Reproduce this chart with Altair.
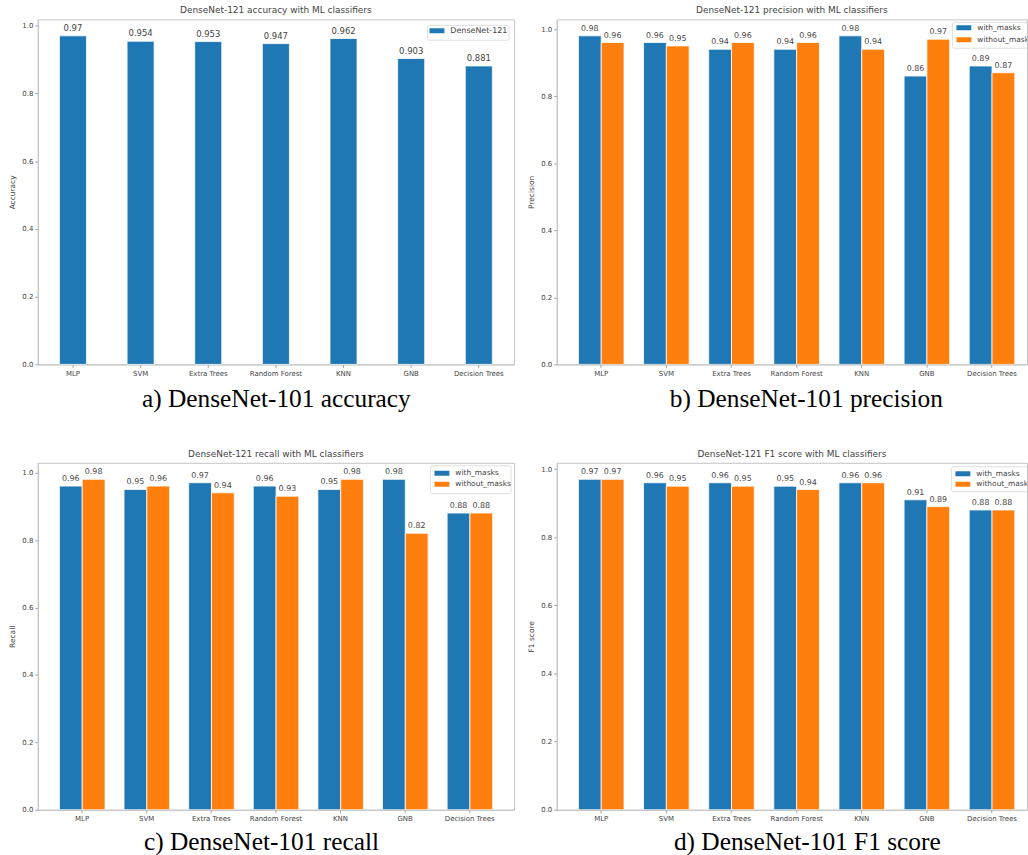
import altair as alt
import pandas as pd

# Classifiers compared in every panel
classifiers = ["MLP", "SVM", "Extra Trees", "Random Forest", "KNN", "GNB", "Decision Trees"]
series = ["with_masks", "without_masks"]

# DenseNet-121 feature extractor + ML classifier results
accuracy = [0.97, 0.954, 0.953, 0.947, 0.962, 0.903, 0.881]
precision_with = [0.98, 0.96, 0.94, 0.94, 0.98, 0.86, 0.89]
precision_without = [0.96, 0.95, 0.96, 0.96, 0.94, 0.97, 0.87]
recall_with = [0.96, 0.95, 0.97, 0.96, 0.95, 0.98, 0.88]
recall_without = [0.98, 0.96, 0.94, 0.93, 0.98, 0.82, 0.88]
f1_with = [0.97, 0.96, 0.96, 0.95, 0.96, 0.91, 0.88]
f1_without = [0.97, 0.95, 0.95, 0.94, 0.96, 0.89, 0.88]

BLUE = "#1f77b4"
ORANGE = "#ff7f0e"
TEXT = "#444444"
FRAME = "#c4c4c4"
Y_TICKS = [0.0, 0.2, 0.4, 0.6, 0.8, 1.0]


def y_enc(field, top, title):
    return alt.Y(
        f"{field}:Q",
        scale=alt.Scale(domain=[0, top], nice=False, zero=True),
        axis=alt.Axis(values=Y_TICKS, format=".1f", title=title),
    )


def panel_title(text):
    return alt.TitleParams(text, font="DejaVu Sans", fontSize=9, fontWeight="normal",
                           color=TEXT, offset=4, anchor="middle")


def caption(text, cx, cy):
    return alt.Chart(pd.DataFrame({"t": [text]})).mark_text(
        font="Liberation Serif", fontSize=25.5, color="black",
        align="center", baseline="alphabetic",
    ).encode(text="t:N", x=alt.value(cx), y=alt.value(cy))


def legend(names, colors, box, sw_x, rows_y, fs):
    x0, y0, x1, y1 = box
    layers = [
        alt.Chart(pd.DataFrame({"k": [0]})).mark_rect(
            fill="white", stroke="#d6d6d6", strokeWidth=0.8, cornerRadius=2, clip=True
        ).encode(x=alt.value(x0), x2=alt.value(x1), y=alt.value(y0), y2=alt.value(y1))
    ]
    for name, color, ry in zip(names, colors, rows_y):
        layers.append(
            alt.Chart(pd.DataFrame({"k": [0]})).mark_rect(fill=color, clip=True).encode(
                x=alt.value(sw_x), x2=alt.value(sw_x + 15),
                y=alt.value(ry - 2.5), y2=alt.value(ry + 2.5))
        )
        layers.append(
            alt.Chart(pd.DataFrame({"t": [name]})).mark_text(
                align="left", baseline="middle", fontSize=fs, color=TEXT,
                font="DejaVu Sans", clip=True
            ).encode(text="t:N", x=alt.value(sw_x + 21), y=alt.value(ry))
        )
    return layers


def single_panel(values, metric, title, cap, cap_x, cap_dy, width, height):
    df = pd.DataFrame({"classifier": classifiers, "value": values,
                       "label": [str(v) for v in values]})
    base = alt.Chart(df).encode(
        x=alt.X("classifier:N", sort=classifiers,
                scale=alt.Scale(paddingInner=0.6, paddingOuter=0.32),
                axis=alt.Axis(title=None, labelAngle=0)),
        y=y_enc("value", max(values) * 1.05, metric),
    )
    bars = base.mark_bar(color=BLUE, stroke="white", strokeWidth=0.8)
    labels = base.mark_text(baseline="bottom", dy=-3, fontSize=8.5, color=TEXT,
                            font="DejaVu Sans").encode(text="label:N")
    leg = legend(["DenseNet-121"], [BLUE], (392, 6, 474, 21), 394, [11.5], 8)
    return alt.layer(bars, labels, *leg, caption(cap, cap_x, height + cap_dy)).properties(
        width=width, height=height, title=panel_title(title))


def grouped_panel(with_vals, without_vals, metric, title, cap, cap_x, cap_dy,
                  width, height, pad_outer, align, leg_box, leg_rows):
    df = pd.DataFrame({
        "classifier": classifiers * 2,
        "series": [series[0]] * len(classifiers) + [series[1]] * len(classifiers),
        "value": with_vals + without_vals,
    })
    df["label"] = df["value"].map(lambda v: f"{v:.2f}")
    xscale = alt.Scale(paddingInner=0.3, paddingOuter=pad_outer, align=align)
    base = alt.Chart(df).encode(
        x=alt.X("classifier:N", sort=classifiers, scale=xscale,
                axis=alt.Axis(title=None, labelAngle=0)),
        xOffset=alt.XOffset("series:N", sort=series,
                            scale=alt.Scale(paddingInner=0, paddingOuter=0)),
        y=y_enc("value", max(with_vals + without_vals) * 1.05, metric),
    )
    bars = base.mark_bar(stroke="white", strokeWidth=0.8, clip=True).encode(
        color=alt.Color("series:N", scale=alt.Scale(domain=series, range=[BLUE, ORANGE]),
                        legend=None))
    labels = base.mark_text(baseline="bottom", dy=-3, fontSize=8, color=TEXT,
                            font="DejaVu Sans", clip=True).encode(text="label:N")
    leg = legend(series, [BLUE, ORANGE], leg_box, leg_box[0] + 4, leg_rows, 7.5)
    return alt.layer(bars, labels, *leg, caption(cap, cap_x, height + cap_dy)).properties(
        width=width, height=height, title=panel_title(title))


panel_a = single_panel(accuracy, "Accuracy", "DenseNet-121 accuracy with ML classifiers",
                       "a) DenseNet-101 accuracy", 240, 43, 479, 347)
# right-hand panels run past the page edge, so their bands keep a wider step
panel_b = grouped_panel(precision_with, precision_without, "Precision",
                        "DenseNet-121 precision with ML classifiers",
                        "b) DenseNet-101 precision", 251, 43, 473, 347, 0.26, 0.64,
                        (398, 3, 480, 29), [8.5, 20.5])
panel_c = grouped_panel(recall_with, recall_without, "Recall",
                        "DenseNet-121 recall with ML classifiers",
                        "c) DenseNet-101 recall", 225, 40, 479, 349, 0.335, 0.5,
                        (395, 3, 476, 31), [10.5, 21.5])
panel_d = grouped_panel(f1_with, f1_without, "F1 score",
                        "DenseNet-121 F1 score with ML classifiers",
                        "d) DenseNet-101 F1 score", 252, 40, 473, 349, 0.26, 0.64,
                        (397, 4, 480, 29), [11, 21.5])

chart = (
    alt.concat(panel_a, panel_b, panel_c, panel_d, columns=2,
               spacing={"row": 99, "column": 43}, bounds="flush")
    .properties(padding={"left": 8, "top": 3, "right": 0, "bottom": 0}, background="white")
    .configure_axis(
        labelFont="DejaVu Sans", labelFontSize=7, labelColor=TEXT, labelPadding=2,
        tickColor="#888888", tickSize=3, tickWidth=0.8,
        domainColor=FRAME, domainWidth=1, grid=False,
        titleFont="DejaVu Sans", titleFontSize=7.5, titleFontWeight="normal",
        titleColor=TEXT, titlePadding=5,
    )
    .configure_view(stroke=FRAME, strokeWidth=1)
)

chart.save("out.html", embed_options={"renderer": "svg", "actions": False})
